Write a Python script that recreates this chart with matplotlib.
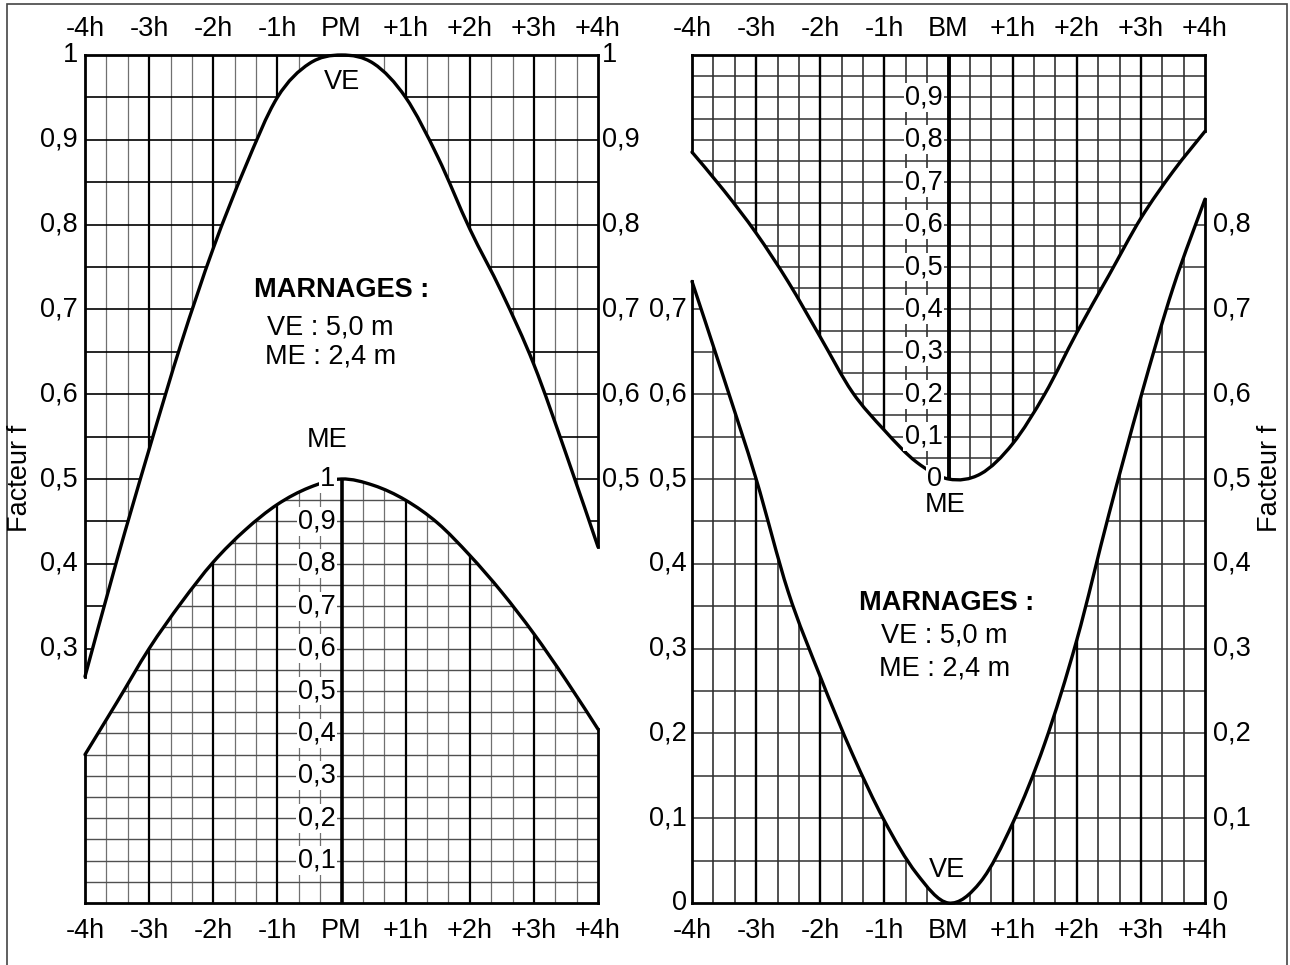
import matplotlib
matplotlib.use('Agg')
import matplotlib.pyplot as plt
import matplotlib.transforms as mtransforms
from matplotlib.patches import PathPatch, Rectangle
from matplotlib.path import Path
import numpy as np

plt.rcParams['font.family'] = ['Liberation Sans', 'DejaVu Sans']

# hour axis
hours = [-4, -3, -2, -1, 0, 1, 2, 3, 4]
pm_labels = ['-4h', '-3h', '-2h', '-1h', 'PM', '+1h', '+2h', '+3h', '+4h']
bm_labels = ['-4h', '-3h', '-2h', '-1h', 'BM', '+1h', '+2h', '+3h', '+4h']

# pleine mer (PM) - vives eaux, facteur f
pm_ve_h = [-4, -3.5, -3, -2.5, -2, -1.5, -1, -0.5, 0, 0.5, 1, 1.5, 2, 2.5, 3, 3.5, 4]
pm_ve_f = [0.267, 0.405, 0.535, 0.66, 0.772, 0.868, 0.95, 0.99, 1.0, 0.99, 0.95, 0.88, 0.795, 0.72, 0.635, 0.53, 0.42]
# pleine mer (PM) - mortes eaux
pm_me_h = [-4, -3.5, -3, -2.5, -2, -1.5, -1, -0.5, 0, 0.5, 1, 1.5, 2, 2.5, 3, 3.5, 4]
pm_me_f = [0.35, 0.474, 0.60, 0.708, 0.804, 0.88, 0.94, 0.98, 1.0, 0.985, 0.95, 0.896, 0.82, 0.733, 0.635, 0.526, 0.41]

# basse mer (BM) - vives eaux
bm_ve_h = [-4, -3.5, -3, -2.5, -2, -1.5, -1, -0.5, 0, 0.5, 1, 1.5, 2, 2.5, 3, 3.5, 4]
bm_ve_f = [0.733, 0.618, 0.50, 0.367, 0.267, 0.176, 0.097, 0.035, 0.0, 0.025, 0.094, 0.188, 0.31, 0.458, 0.597, 0.725, 0.83]
# basse mer (BM) - mortes eaux
bm_me_h = [-4, -3.5, -3, -2.5, -2, -1.5, -1, -0.5, 0, 0.5, 1, 1.5, 2, 2.5, 3, 3.5, 4]
bm_me_f = [0.771, 0.68, 0.58, 0.465, 0.335, 0.205, 0.115, 0.04, 0.0, 0.012, 0.083, 0.20, 0.345, 0.48, 0.615, 0.725, 0.82]

# scale labels
pm_left_vals = [1.0, 0.9, 0.8, 0.7, 0.6, 0.5, 0.4, 0.3]
pm_right_vals = [1.0, 0.9, 0.8, 0.7, 0.6, 0.5]
pm_inner_vals = [1.0, 0.9, 0.8, 0.7, 0.6, 0.5, 0.4, 0.3, 0.2, 0.1]
bm_left_vals = [0.7, 0.6, 0.5, 0.4, 0.3, 0.2, 0.1, 0.0]
bm_right_vals = [0.8, 0.7, 0.6, 0.5, 0.4, 0.3, 0.2, 0.1, 0.0]
bm_inner_vals = [0.9, 0.8, 0.7, 0.6, 0.5, 0.4, 0.3, 0.2, 0.1, 0.0]

marnage_lines = ['VE : 5,0 m', 'ME : 2,4 m']

FS = 19.5
W, H = 1290, 965


def fmt(v):
    if v == 1.0:
        return '1'
    if v == 0.0:
        return '0'
    return ('%.1f' % v).replace('.', ',')


def smooth(xs, ys):
    # catmull-rom through the read points, as bezier segments
    P = np.column_stack([xs, ys]).astype(float)
    n = len(P)
    verts = [P[0]]
    for i in range(n - 1):
        p0 = P[i - 1] if i > 0 else P[i]
        p1, p2 = P[i], P[i + 1]
        p3 = P[i + 2] if i + 2 < n else P[i + 1]
        verts += [p1 + (p2 - p0) / 6.0, p2 - (p3 - p1) / 6.0, p2]
    return verts


def curve_path(verts, extra=None):
    codes = [Path.MOVETO] + [Path.CURVE4] * (len(verts) - 1)
    if extra:
        verts = verts + extra
        codes = codes + [Path.LINETO] * len(extra)
    return Path(verts, codes)


def region(top, bottom):
    # closed region between two smooth curves (both left to right)
    v = top + [bottom[-1]] + bottom[::-1][1:] + [top[0]]
    c = ([Path.MOVETO] + [Path.CURVE4] * (len(top) - 1) + [Path.LINETO]
         + [Path.CURVE4] * (len(bottom) - 1) + [Path.CLOSEPOLY])
    return Path(v, c)


def label_box(ax, x_off, y, txt, side, ha):
    tr = mtransforms.blended_transform_factory(ax.transAxes, ax.transData)
    tr = tr + mtransforms.ScaledTranslation(x_off / 100.0, 0, ax.figure.dpi_scale_trans)
    ax.text(side, y, txt, transform=tr, ha=ha, va='center', fontsize=FS, zorder=8,
            bbox=dict(boxstyle='square,pad=0.05', fc='white', ec='none'), clip_on=False)


def inner_label(ax, y, txt):
    tr = ax.transData + mtransforms.ScaledTranslation(-6 / 100.0, 0, ax.figure.dpi_scale_trans)
    ax.text(0, y, txt, transform=tr, ha='right', va='center', fontsize=FS, zorder=8,
            bbox=dict(boxstyle='square,pad=0.05', fc='white', ec='none'))


def setup(ax, labels):
    ax.set_xlim(-4, 4)
    ax.set_ylim(0, 1)
    for s in ax.spines.values():
        s.set_visible(False)
    ax.set_yticks([])
    ax.set_xticks(hours)
    ax.set_xticklabels(labels, fontsize=FS)
    ax.tick_params(axis='x', length=0, pad=11)
    top = ax.secondary_xaxis('top')
    top.set_xticks(hours)
    top.set_xticklabels(labels, fontsize=FS)
    top.tick_params(length=0, pad=9)
    top.spines['top'].set_visible(False)


def verticals(ax, thin_color, thin_lw, hour_lw, mid_lw):
    for k in range(-11, 12):
        v = k / 3.0
        if k == 0:
            ax.axvline(v, color='black', lw=mid_lw, zorder=2)
        elif k % 3 == 0:
            ax.axvline(v, color='black', lw=hour_lw, zorder=2)
        else:
            ax.axvline(v, color=thin_color, lw=thin_lw, zorder=1)


def clipped_hlines(ax, ys, path, color, lw):
    patch = PathPatch(path, transform=ax.transData)
    lc = ax.hlines(ys, -4, 4, colors=color, lw=lw, zorder=1.5)
    lc.set_clip_path(patch)


def frame(ax, left_segs, right_segs):
    ax.plot([-4, 4], [1, 1], color='black', lw=2, zorder=4, clip_on=False, solid_capstyle='projecting')
    ax.plot([-4, 4], [0, 0], color='black', lw=2, zorder=4, clip_on=False, solid_capstyle='projecting')
    for a, b in left_segs:
        ax.plot([-4, -4], [a, b], color='black', lw=2, zorder=4, clip_on=False)
    for a, b in right_segs:
        ax.plot([4, 4], [a, b], color='black', lw=2, zorder=4, clip_on=False)


def draw_curve(ax, verts):
    ax.add_patch(PathPatch(curve_path(verts), fc='none', ec='black', lw=2.4, zorder=5,
                           clip_on=False, capstyle='round'))


fig = plt.figure(figsize=(W / 100, H / 100), dpi=100)
fig.patch.set_facecolor('white')

# ---------------- left panel : PM ----------------
ax1 = fig.add_axes([85 / W, 62 / H, 513 / W, 848 / H])
setup(ax1, pm_labels)
pm_me_y = [0.5 * f for f in pm_me_f]
ve_v = smooth(pm_ve_h, pm_ve_f)
me_v = smooth(pm_me_h, pm_me_y)

verticals(ax1, '#707070', 0.9, 1.6, 2.6)
clipped_hlines(ax1, [k * 0.05 for k in range(1, 20)],
               curve_path(ve_v, [(4, 1), (-4, 1)]), 'black', 1.2)
clipped_hlines(ax1, [k * 0.025 for k in range(1, 20)],
               curve_path(me_v, [(4, 0), (-4, 0)]), '#505050', 1.0)

ax1.add_patch(PathPatch(region(ve_v, me_v), fc='white', ec='none', zorder=3))
draw_curve(ax1, ve_v)
draw_curve(ax1, me_v)
frame(ax1, [(0, pm_me_y[0]), (pm_ve_f[0], 1)], [(0, pm_me_y[-1]), (pm_ve_f[-1], 1)])

for v in pm_left_vals:
    label_box(ax1, -7, v, fmt(v), 0, 'right')
for v in pm_right_vals:
    label_box(ax1, 4, v, fmt(v), 1, 'left')
for v in pm_inner_vals:
    inner_label(ax1, 0.5 * v, fmt(v))

ax1.text(0, 0.968, 'VE', ha='center', va='center', fontsize=FS, zorder=8)
ax1.text(0, 0.723, 'MARNAGES :', ha='center', va='center', fontsize=FS, fontweight='bold', zorder=8)
ax1.text(-0.17, 0.679, marnage_lines[0], ha='center', va='center', fontsize=FS, zorder=8)
ax1.text(-0.17, 0.644, marnage_lines[1], ha='center', va='center', fontsize=FS, zorder=8)
ax1.text(-0.23, 0.546, 'ME', ha='center', va='center', fontsize=FS, zorder=8)

# ---------------- right panel : BM ----------------
ax2 = fig.add_axes([692 / W, 62 / H, 513 / W, 848 / H])
setup(ax2, bm_labels)
bm_me_y = [0.5 + 0.5 * f for f in bm_me_f]
ve_v = smooth(bm_ve_h, bm_ve_f)
me_v = smooth(bm_me_h, bm_me_y)

verticals(ax2, '#202020', 1.1, 1.7, 2.8)
clipped_hlines(ax2, [0.5 + k * 0.025 for k in range(1, 20)],
               curve_path(me_v, [(4, 1), (-4, 1)]), '#303030', 1.1)
clipped_hlines(ax2, [k * 0.05 for k in range(1, 20)],
               curve_path(ve_v, [(4, 0), (-4, 0)]), '#303030', 1.1)

ax2.add_patch(PathPatch(region(me_v, ve_v), fc='white', ec='none', zorder=3))
draw_curve(ax2, ve_v)
draw_curve(ax2, me_v)
frame(ax2, [(0, bm_ve_f[0]), (bm_me_y[0], 1)], [(0, bm_ve_f[-1]), (bm_me_y[-1], 1)])

for v in bm_left_vals:
    label_box(ax2, -5, v, fmt(v), 0, 'right')
for v in bm_right_vals:
    label_box(ax2, 8, v, fmt(v), 1, 'left')
for v in bm_inner_vals:
    inner_label(ax2, 0.5 + 0.5 * v, fmt(v))

ax2.text(-0.06, 0.469, 'ME', ha='center', va='center', fontsize=FS, zorder=8)
ax2.text(-0.03, 0.354, 'MARNAGES :', ha='center', va='center', fontsize=FS, fontweight='bold', zorder=8)
ax2.text(-0.06, 0.315, marnage_lines[0], ha='center', va='center', fontsize=FS, zorder=8)
ax2.text(-0.06, 0.277, marnage_lines[1], ha='center', va='center', fontsize=FS, zorder=8)
ax2.text(-0.03, 0.039, 'VE', ha='center', va='center', fontsize=FS, zorder=8)

# axis titles
fig.text(20 / W, 1 - 478 / H, 'Facteur f', rotation=90, ha='center', va='center', fontsize=FS)
fig.text(1270 / W, 1 - 478 / H, 'Facteur f', rotation=90, ha='center', va='center', fontsize=FS)

# outer border
fig.patches.append(Rectangle((7 / W, -0.01), 1280 / W, 1 - 4 / H + 0.01, transform=fig.transFigure,
                             fill=False, ec='#444444', lw=1.2))

fig.savefig('out.png', dpi=100, facecolor='white')
